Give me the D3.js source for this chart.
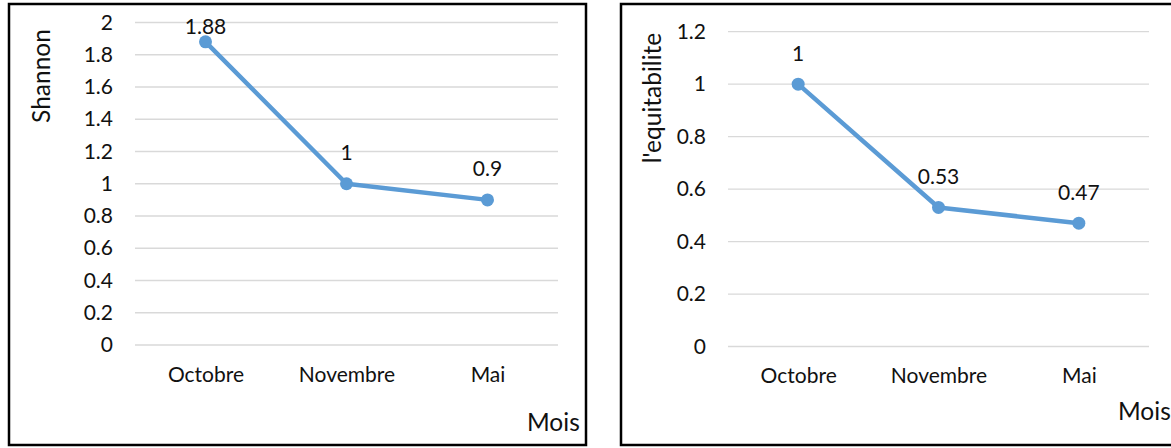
<!DOCTYPE html>
<html><head><meta charset="utf-8">
<script src="https://cdn.jsdelivr.net/npm/d3@7"></script>
<style>body{margin:0;background:#fff}svg{display:block}text{font-family:Lato,"Open Sans",sans-serif;fill:#111}</style>
</head><body>
<svg id="c" width="1171" height="448"></svg>
<script>
const months = ["Octobre","Novembre","Mai"];
const shannonValues = [1.88, 1.0, 0.9];
const shannonTicks = [0,0.2,0.4,0.6,0.8,1,1.2,1.4,1.6,1.8,2];
const equitValues = [1.0, 0.53, 0.47];
const equitTicks = [0,0.2,0.4,0.6,0.8,1,1.2];

const svg = d3.select("#c");
const FS = 21;
const TFS = 24.5;

function drawChart(o){
  const g = svg.append("g");
  g.append("rect").attr("x",o.box[0]).attr("y",o.box[1]).attr("width",o.box[2]).attr("height",o.box[3])
    .attr("fill","#fff").attr("stroke","#000").attr("stroke-width",2.5);
  const x = d3.scalePoint().domain(o.cats).range([o.px0,o.px1]).padding(0.5);
  const y = d3.scaleLinear().domain([0,o.max]).range([o.py0,o.py1]);
  g.append("g").selectAll("line").data(o.ticks).join("line")
    .attr("x1",o.px0).attr("x2",o.px1).attr("y1",d=>y(d)).attr("y2",d=>y(d))
    .attr("stroke","#d9d9d9").attr("stroke-width",1.3);
  const ya = g.append("g").attr("transform",`translate(${o.px0},0)`)
    .call(d3.axisLeft(y).tickValues(o.ticks).tickFormat(d3.format("~g")).tickSize(0).tickPadding(o.tickPad));
  ya.select(".domain").remove();
  ya.selectAll("text").attr("font-size",FS).attr("font-family","Lato").attr("fill","#111");
  const xa = g.append("g").attr("transform",`translate(0,${o.py0})`)
    .call(d3.axisBottom(x).tickSize(0).tickPadding(22));
  xa.select(".domain").remove();
  xa.selectAll("text").attr("font-size",FS).attr("font-family","Lato").attr("fill","#111");
  const line = d3.line().x((d,i)=>x(o.cats[i])).y(d=>y(d));
  g.append("path").datum(o.values).attr("d",line).attr("fill","none")
    .attr("stroke","#5b9bd5").attr("stroke-width",4.5).attr("stroke-linecap","round").attr("stroke-linejoin","round");
  g.append("g").selectAll("circle").data(o.values).join("circle")
    .attr("cx",(d,i)=>x(o.cats[i])).attr("cy",d=>y(d)).attr("r",6.5).attr("fill","#5b9bd5");
  g.append("g").selectAll("text").data(o.values).join("text")
    .attr("x",(d,i)=>x(o.cats[i])).attr("y",d=>Math.max(y(d)-32, o.py1+3))
    .attr("text-anchor","middle").attr("dominant-baseline","central").attr("font-size",FS)
    .text(d=>d3.format("~g")(d));
  g.append("text").attr("transform",`translate(${o.ytx},${o.yty}) rotate(-90)`)
    .attr("text-anchor","middle").attr("dominant-baseline","central").attr("font-size",TFS).text(o.ytitle);
  g.append("text").attr("x",o.xtx).attr("y",o.xty).attr("dominant-baseline","central")
    .attr("font-size",TFS).text("Mois");
}

drawChart({box:[9,4,577,441], cats:months, values:shannonValues, ticks:shannonTicks, max:2,
  px0:135, px1:558, py0:345, py1:22.5, tickPad:22, ytitle:"Shannon", ytx:40, yty:76, xtx:527, xty:421});
drawChart({box:[621,4,580,441], cats:months, values:equitValues, ticks:equitTicks, max:1.2,
  px0:728, px1:1149, py0:346.5, py1:31.7, tickPad:22, ytitle:"l'equitabilite", ytx:651, yty:98, xtx:1118, xty:410});
</script>
</body></html>
